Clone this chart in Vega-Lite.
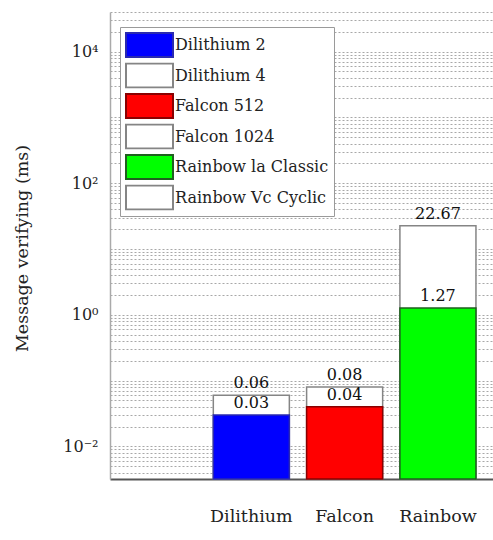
{
  "$schema": "https://vega.github.io/schema/vega-lite/v6.json",
  "autosize": "none",
  "width": 383,
  "height": 467,
  "padding": {"left": 110, "top": 12, "right": 0, "bottom": 61},
  "background": "white",
  "data": {
    "values": [
      {"group": "Dilithium", "series": "Dilithium 4", "ms": 0.06},
      {"group": "Falcon", "series": "Falcon 1024", "ms": 0.08},
      {"group": "Rainbow", "series": "Rainbow Vc Cyclic", "ms": 22.67},
      {"group": "Dilithium", "series": "Dilithium 2", "ms": 0.03},
      {"group": "Falcon", "series": "Falcon 512", "ms": 0.04},
      {"group": "Rainbow", "series": "Rainbow la Classic", "ms": 1.27}
    ]
  },
  "encoding": {
    "x": {
      "field": "group",
      "type": "nominal",
      "sort": null,
      "scale": {"domain": ["_", "Dilithium", "Falcon", "Rainbow"], "paddingInner": 0.185, "paddingOuter": 0.145, "align": 0.37},
      "axis": {
        "title": null,
        "labelAngle": 0,
        "labelExpr": "datum.value == '_' ? '' : datum.value",
        "labelFont": "DejaVu Serif",
        "labelFontSize": 17.5,
        "labelColor": "#222",
        "labelPadding": 28,
        "ticks": false,
        "grid": false,
        "domainColor": "#555",
        "domainWidth": 2
      }
    },
    "y": {
      "field": "ms",
      "type": "quantitative",
      "stack": null,
      "scale": {"type": "log", "domain": [0.0032, 40000]},
      "axis": {
        "title": "Message verifying (ms)",
        "titleFont": "DejaVu Serif",
        "titleFontSize": 17.5,
        "titleFontWeight": "normal",
        "titleColor": "#222",
        "titleX": -79,
        "titleY": 236,
        "values": [0.004, 0.005, 0.006, 0.007, 0.008, 0.009, 0.01, 0.02, 0.03, 0.04, 0.05, 0.06, 0.07, 0.08, 0.09, 0.1, 0.2, 0.3, 0.4, 0.5, 0.6, 0.7, 0.8, 0.9, 1, 2, 3, 4, 5, 6, 7, 8, 9, 10, 20, 30, 40, 50, 60, 70, 80, 90, 100, 200, 300, 400, 500, 600, 700, 800, 900, 1000, 2000, 3000, 4000, 5000, 6000, 7000, 8000, 9000, 10000, 20000, 30000, 40000],
        "labelExpr": "datum.value == 10000 ? '10⁴' : datum.value == 100 ? '10²' : datum.value == 1 ? '10⁰' : datum.value == 0.01 ? '10⁻²' : ''",
        "labelFont": "DejaVu Serif",
        "labelFontSize": 16,
        "labelColor": "#222",
        "labelPadding": 12,
        "ticks": false,
        "grid": true,
        "gridColor": "#a8a8a8",
        "gridDash": [2, 2],
        "gridWidth": 1,
        "domainColor": "#aaaaaa",
        "domainWidth": 1.5
      }
    }
  },
  "layer": [
    {
      "mark": {"type": "bar", "strokeWidth": 1.5},
      "encoding": {
        "fill": {
          "field": "series",
          "type": "nominal",
          "scale": {
            "domain": ["Dilithium 2", "Dilithium 4", "Falcon 512", "Falcon 1024", "Rainbow la Classic", "Rainbow Vc Cyclic"],
            "range": ["#0000ff", "#ffffff", "#ff0000", "#ffffff", "#00ff00", "#ffffff"]
          },
          "legend": {
            "title": null,
            "orient": "none",
            "legendX": 10,
            "legendY": 15,
            "symbolType": "M-1,-0.51H1V0.51H-1Z",
            "symbolSize": 2209,
            "symbolStrokeWidth": 2,
            "symbolOpacity": 1,
            "clipHeight": 26,
            "rowPadding": 4.5,
            "labelFont": "DejaVu Serif",
            "labelFontSize": 16,
            "labelColor": "#222",
            "labelOffset": 1,
            "padding": 5,
            "strokeColor": "#9a9a9a",
            "fillColor": "white"
          }
        },
        "stroke": {
          "field": "series",
          "type": "nominal",
          "scale": {
            "domain": ["Dilithium 2", "Dilithium 4", "Falcon 512", "Falcon 1024", "Rainbow la Classic", "Rainbow Vc Cyclic"],
            "range": ["#2a2ab0", "#858585", "#8a0000", "#858585", "#1f5f1f", "#858585"]
          },
          "legend": {
            "title": null,
            "orient": "none",
            "legendX": 10,
            "legendY": 15,
            "symbolType": "M-1,-0.51H1V0.51H-1Z",
            "symbolSize": 2209,
            "symbolStrokeWidth": 2,
            "symbolOpacity": 1,
            "clipHeight": 26,
            "rowPadding": 4.5,
            "labelFont": "DejaVu Serif",
            "labelFontSize": 16,
            "labelColor": "#222",
            "labelOffset": 1,
            "padding": 5,
            "strokeColor": "#9a9a9a",
            "fillColor": "white"
          }
        }
      }
    },
    {
      "mark": {"type": "text", "baseline": "bottom", "dy": -4, "fontSize": 16, "color": "#111", "font": "DejaVu Serif"},
      "encoding": {
        "text": {"field": "ms", "type": "quantitative", "format": ".2f"}
      }
    }
  ],
  "config": {
    "font": "DejaVu Serif",
    "view": {"stroke": null}
  }
}
